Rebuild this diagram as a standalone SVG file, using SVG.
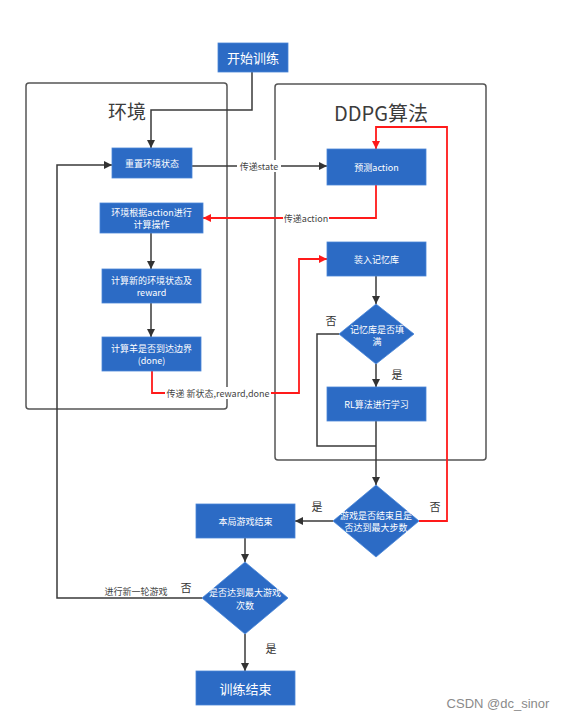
<svg xmlns="http://www.w3.org/2000/svg" width="565" height="725" viewBox="0 0 565 725">
<defs>
<marker id="ab" viewBox="0 0 10 10" refX="10" refY="5" markerWidth="8" markerHeight="8" markerUnits="userSpaceOnUse" orient="auto"><path d="M0,0 L10,5 L0,10 z" fill="#333"/></marker>
<marker id="ar" viewBox="0 0 10 10" refX="10" refY="5" markerWidth="8" markerHeight="8" markerUnits="userSpaceOnUse" orient="auto"><path d="M0,0 L10,5 L0,10 z" fill="#ff1a1a"/></marker>
</defs>
<style>
.box{fill:#2c6bc5;stroke:#4a86d8;stroke-width:0.8}
.wt{fill:#fff;font-family:"Noto Sans CJK SC","Liberation Sans",sans-serif;font-size:9px;text-anchor:middle;dominant-baseline:central}
.big{font-size:13px}
.cont{fill:none;stroke:#555;stroke-width:1.5}
.title{fill:#3c3c3c;font-family:"Noto Sans CJK SC","Liberation Sans",sans-serif;text-anchor:middle;dominant-baseline:central}
.ln{fill:none;stroke:#3a3a3a;stroke-width:1.5}
.rd{fill:none;stroke:#ff1a1a;stroke-width:1.8}
.lbl{fill:#444;font-family:"Noto Sans CJK SC","Liberation Sans",sans-serif;font-size:9px;text-anchor:middle;dominant-baseline:central}
.yn{fill:#333;font-family:"Noto Sans CJK SC","Liberation Sans",sans-serif;font-size:11px;text-anchor:middle;dominant-baseline:central}
.bg{fill:#fff}
</style>
<rect width="565" height="725" fill="#fff"/>
<g id="env-container">
<rect class="cont" x="26" y="83" width="201" height="326" rx="3"/>
<text class="title" x="127" y="110" font-size="19">环境</text>
</g>
<g id="ddpg-container">
<rect class="cont" x="275" y="84" width="211" height="376" rx="3"/>
<text class="title" x="381" y="112" font-size="20">DDPG算法</text>
</g>
<g id="connectors">
<path class="ln" d="M252,72 V110 H151 V148" marker-end="url(#ab)"/>
<path class="ln" d="M192,166 H327" marker-end="url(#ab)"/>
<rect class="bg" x="237" y="160" width="44" height="12"/>
<text class="lbl" x="259" y="166">传递state</text>
<path class="rd" d="M376,185 V218 H203" marker-end="url(#ar)"/>
<rect class="bg" x="283" y="212" width="46" height="12"/>
<text class="lbl" x="306" y="218">传递action</text>
<path class="ln" d="M151,233 V269" marker-end="url(#ab)"/>
<path class="ln" d="M151,303 V337" marker-end="url(#ab)"/>
<path class="rd" d="M152,371 V393 H299 V259 H327" marker-end="url(#ar)"/>
<rect class="bg" x="165" y="387" width="106" height="12"/>
<text class="lbl" x="218" y="393">传递 新状态,reward,done</text>
<path class="ln" d="M376,276 V304" marker-end="url(#ab)"/>
<path class="ln" d="M376,364 V387" marker-end="url(#ab)"/>
<text class="yn" x="397" y="374">是</text>
<path class="ln" d="M339,334 H317 V446 H376"/>
<text class="yn" x="331" y="320">否</text>
<path class="ln" d="M376,421 V485" marker-end="url(#ab)"/>
<path class="ln" d="M333,521 H295" marker-end="url(#ab)"/>
<text class="yn" x="317" y="506">是</text>
<path class="rd" d="M419,521 H447 V127 H376 V149" marker-end="url(#ar)"/>
<text class="yn" x="435" y="506">否</text>
<path class="ln" d="M245,538 V562" marker-end="url(#ab)"/>
<path class="ln" d="M202,598 H57 V165 H112" marker-end="url(#ab)"/>
<text class="lbl" x="136" y="591">进行新一轮游戏</text>
<text class="yn" x="186" y="587">否</text>
<path class="ln" d="M245,634 V671" marker-end="url(#ab)"/>
<text class="yn" x="271" y="648">是</text>
</g>
<g id="start">
<rect class="box" x="218" y="43" width="70" height="29"/>
<text class="wt big" x="253" y="57.5">开始训练</text>
</g>
<g id="reset">
<rect class="box" x="112" y="148" width="80" height="30"/>
<text class="wt" x="152" y="163" font-size="8">重置环境状态</text>
</g>
<g id="env-act">
<rect class="box" x="100" y="203" width="103" height="30"/>
<text class="wt" x="151.5" y="212.5">环境根据action进行</text>
<text class="wt" x="151.5" y="224">计算操作</text>
</g>
<g id="calc-state">
<rect class="box" x="102" y="269" width="99" height="34"/>
<text class="wt" x="151.5" y="280">计算新的环境状态及</text>
<text class="wt" x="151.5" y="292">reward</text>
</g>
<g id="calc-done">
<rect class="box" x="102" y="337" width="99" height="34"/>
<text class="wt" x="151.5" y="348">计算羊是否到达边界</text>
<text class="wt" x="151.5" y="360">(done)</text>
</g>
<g id="predict">
<rect class="box" x="327" y="149" width="99" height="36"/>
<text class="wt" x="376.5" y="167" font-size="8.5">预测action</text>
</g>
<g id="store">
<rect class="box" x="327" y="242" width="99" height="34"/>
<text class="wt" x="376.5" y="259" font-size="8">装入记忆库</text>
</g>
<g id="mem-full">
<polygon class="box" points="376,304 414,334 376,364 339,334"/>
<text class="wt" x="377" y="329" font-size="8.5">记忆库是否填</text>
<text class="wt" x="377" y="341" font-size="8.5">满</text>
</g>
<g id="learn">
<rect class="box" x="327" y="387" width="99" height="34"/>
<text class="wt" x="376.5" y="404">RL算法进行学习</text>
</g>
<g id="episode-done">
<polygon class="box" points="376,485 419,521 376,557 333,521"/>
<text class="wt" x="376" y="515" font-size="8">游戏是否结束且是</text>
<text class="wt" x="376" y="527" font-size="8">否达到最大步数</text>
</g>
<g id="episode-end">
<rect class="box" x="196" y="504" width="99" height="34"/>
<text class="wt" x="245.5" y="521">本局游戏结束</text>
</g>
<g id="max-games">
<polygon class="box" points="245,562 288,598 245,634 202,598"/>
<text class="wt" x="245" y="592">是否达到最大游戏</text>
<text class="wt" x="245" y="605">次数</text>
</g>
<g id="train-end">
<rect class="box" x="196" y="671" width="99" height="34"/>
<text class="wt big" x="245.5" y="688">训练结束</text>
</g>
<text x="498" y="703" fill="#8a8a8a" font-family="Liberation Sans, sans-serif" font-size="13" text-anchor="middle" dominant-baseline="central">CSDN @dc_sinor</text>
</svg>
